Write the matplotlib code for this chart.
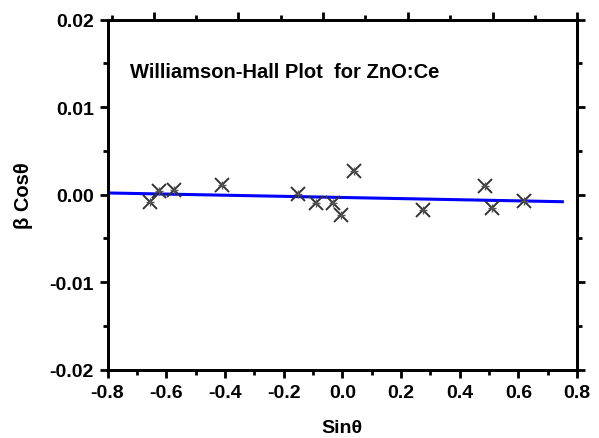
import matplotlib
matplotlib.use("Agg")
import matplotlib.pyplot as plt
from matplotlib.ticker import MultipleLocator

sin_theta = [-0.654, -0.623, -0.573, -0.410, -0.151, -0.090, -0.032, -0.004,
             0.041, 0.275, 0.485, 0.510, 0.618]
beta_cos = [-0.00087, 0.00039, 0.00057, 0.00114, 0.00010, -0.00098, -0.00091,
            -0.00229, 0.00271, -0.00175, 0.00096, -0.00152, -0.00069]
fit_x = [-0.80, 0.75]
fit_y = [0.00020, -0.00080]

x_ticks = [-0.8, -0.6, -0.4, -0.2, 0.0, 0.2, 0.4, 0.6, 0.8]
y_ticks = [-0.02, -0.01, 0.00, 0.01, 0.02]
# the top frame in the reference carries its own (unlabelled) tick spacing
top_major = [-0.642, -0.354, -0.065, 0.223, 0.512, 0.800]
top_minor = [-0.786, -0.498, -0.210, 0.079, 0.367, 0.656]

plt.rcParams['font.family'] = ['Liberation Sans', 'DejaVu Sans']
plt.rcParams['font.weight'] = 'bold'

fig = plt.figure(figsize=(5.99, 4.39), dpi=100)
ax = fig.add_axes([0.1795, 0.1556, 0.7838, 0.7972])

ax.plot(fit_x, fit_y, color='#0000ff', lw=2.2, zorder=2)
ax.plot(sin_theta, beta_cos, ls='none', marker='x', ms=9.5, mew=1.4,
        color='#333333', zorder=3)
ax.plot(sin_theta, beta_cos, ls='none', marker='+', ms=6, mew=1.0,
        color='#555555', zorder=3)

ax.set_xlim(-0.8, 0.8)
ax.set_ylim(-0.02, 0.02)
ax.set_xticks(x_ticks)
ax.set_yticks(y_ticks)
ax.set_xticklabels([f"{v:.1f}" for v in x_ticks])
ax.set_yticklabels([f"{v:.2f}" for v in y_ticks])
ax.xaxis.set_minor_locator(MultipleLocator(0.1))
ax.yaxis.set_minor_locator(MultipleLocator(0.005))

for s in ax.spines.values():
    s.set_linewidth(2.0)
ax.tick_params(which='both', direction='out', top=False, right=True,
               width=2.0, labelsize=14)
ax.tick_params(which='major', length=6, pad=4)
ax.tick_params(which='minor', length=3.5)
for lab in ax.get_xticklabels() + ax.get_yticklabels():
    lab.set_fontweight('bold')

top = ax.twiny()
top.set_xlim(ax.get_xlim())
top.set_xticks(top_major)
top.set_xticks(top_minor, minor=True)
top.tick_params(which='both', direction='out', width=2.0, labeltop=False)
top.tick_params(which='major', length=6)
top.tick_params(which='minor', length=3.5)
for s in top.spines.values():
    s.set_linewidth(2.0)

ax.set_xlabel('Sinθ', fontsize=14, fontweight='bold', labelpad=13)
ax.set_ylabel('β Cosθ', fontsize=14.5, fontweight='bold', labelpad=12)

ax.text(0.048, 0.853, 'Williamson-Hall Plot  for ZnO:Ce', transform=ax.transAxes,
        fontsize=14.5, fontweight='bold', ha='left', va='center')

fig.savefig('out.png', dpi=100)
